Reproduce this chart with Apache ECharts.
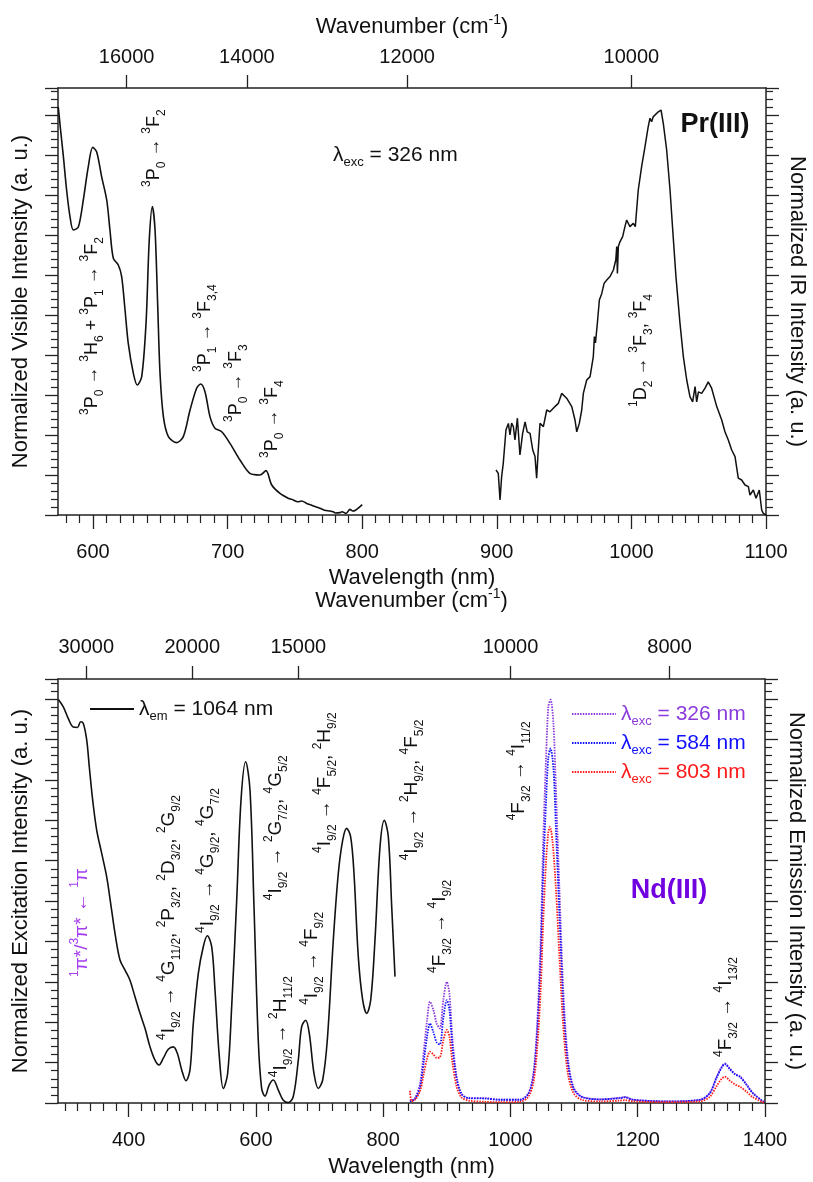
<!DOCTYPE html>
<html><head><meta charset="utf-8">
<script src="https://cdn.jsdelivr.net/npm/echarts@6/dist/echarts.min.js"></script>
<style>html,body{margin:0;padding:0;background:#fff}#c{width:813px;height:1182px}</style>
</head><body><div id="c"></div>
<script>
const FONT = '"Liberation Sans", Arial, Helvetica, sans-serif';

// ---------- Top panel: Pr(III) ----------
const prWavelengthTicks = [600, 700, 800, 900, 1000, 1100];
const prWavenumberTicks = [16000, 14000, 12000, 10000];
const prVisible = [[574.2,1.02],[576,0.96],[578,0.896],[580.4,0.8125],[582.9,0.746],[585.4,0.7125],[589.1,0.72],[592.8,0.7875],[596.5,0.871],[599.8,0.919],[602.7,0.908],[606.4,0.846],[610.2,0.7875],[612.6,0.7125],[615.1,0.642],[618.8,0.625],[621.3,0.596],[623.8,0.5125],[626.2,0.429],[630,0.354],[632.9,0.325],[636.2,0.346],[639.4,0.479],[641.8,0.6875],[644.1,0.771],[646.1,0.7125],[648.1,0.521],[649.8,0.354],[652.3,0.246],[656,0.196],[662.2,0.181],[667.1,0.196],[672.1,0.2625],[677,0.317],[680,0.3275],[683.2,0.308],[686.9,0.246],[690.6,0.217],[695.6,0.208],[701.8,0.179],[709.2,0.1375],[716.6,0.104],[724.1,0.1],[728.5,0.111],[732.8,0.075],[738.9,0.054],[745,0.042],[748.8,0.0375],[752,0.033],[755,0.035],[758.8,0.029],[762,0.025],[766,0.02],[768.6,0.017],[772,0.012],[776,0.01],[778.5,0.008],[780,0.005],[783.5,0.006],[785,0.008],[788,0.004],[790.9,0.014],[793,0.01],[795,0.012],[798.4,0.021],[800,0.026]];
const prIR = [[899.4,0.1125],[901.1,0.104],[902.4,0.0375],[903.6,0.096],[904.8,0.129],[906.8,0.2125],[908.6,0.229],[909.8,0.2],[911,0.23],[912.3,0.221],[913.5,0.1875],[915.3,0.242],[917.2,0.15],[919.2,0.204],[921,0.233],[922.6,0.208],[924.7,0.204],[926.7,0.1625],[928.4,0.146],[929.6,0.092],[930.8,0.1625],[932.1,0.229],[934.6,0.221],[937.1,0.2625],[939.5,0.258],[943.2,0.271],[945.7,0.279],[948.2,0.304],[951.9,0.292],[955.7,0.271],[958.1,0.2375],[959.4,0.208],[961.3,0.229],[963.1,0.2625],[964.3,0.304],[965.5,0.308],[966.8,0.3375],[969.3,0.346],[970.5,0.371],[971.7,0.396],[972.5,0.446],[973.3,0.43],[974.7,0.479],[976.2,0.5375],[978,0.554],[979.7,0.579],[981.7,0.5875],[984.1,0.596],[986.6,0.6125],[988.4,0.6375],[989.1,0.671],[989.6,0.604],[990.3,0.671],[991.5,0.683],[993.5,0.696],[995.2,0.721],[996.5,0.7375],[997.7,0.733],[998.9,0.721],[1001.4,0.729],[1002.9,0.721],[1005.1,0.8125],[1007.6,0.871],[1010.1,0.921],[1012.5,0.971],[1013.8,0.992],[1015,0.983],[1016.3,0.996],[1017.5,1.0],[1020,1.008],[1022,1.0125],[1023.7,0.979],[1026.2,0.9125],[1028.7,0.8125],[1030.7,0.7125],[1033.1,0.596],[1036.1,0.479],[1038.6,0.396],[1041.1,0.3375],[1043.5,0.296],[1045.5,0.283],[1047.3,0.321],[1048.5,0.283],[1049.8,0.308],[1052.2,0.304],[1054.7,0.317],[1057.1,0.333],[1059.6,0.317],[1063.4,0.271],[1067.1,0.2375],[1069.5,0.208],[1072,0.1875],[1074.5,0.1625],[1077,0.146],[1079.4,0.092],[1081.9,0.0875],[1084.4,0.075],[1086.9,0.071],[1088.1,0.05],[1090.6,0.0625],[1092.6,0.042],[1095,0.0625],[1096.8,0.0125],[1098,0.004],[1100,0.0]];

// ---------- Bottom panel: Nd(III) ----------
const ndWavelengthTicks = [400, 600, 800, 1000, 1200, 1400];
const ndWavenumberTicks = [30000, 20000, 15000, 10000, 8000];
const ndExcitation = [[289.5,0.999],[297.3,0.981],[305.2,0.952],[313,0.931],[319.4,0.93],[324.7,0.944],[328.8,0.94],[334.1,0.899],[338.2,0.832],[343.5,0.75],[349.8,0.676],[357.7,0.618],[365.5,0.56],[371.8,0.494],[378.6,0.42],[386.4,0.354],[394.3,0.329],[402.1,0.304],[410,0.263],[417.9,0.222],[425.7,0.185],[433.6,0.139],[441.4,0.106],[447.7,0.094],[454.5,0.111],[462.3,0.133],[470.2,0.139],[476.5,0.123],[483.4,0.082],[490.1,0.055],[496.4,0.082],[501.6,0.197],[509.5,0.321],[517.3,0.387],[523.6,0.414],[530.5,0.387],[535.7,0.28],[542.5,0.115],[548.8,0.036],[555.6,0.073],[561.9,0.238],[569.8,0.502],[576.6,0.75],[583.9,0.845],[590.7,0.775],[597,0.486],[603.7,0.156],[609,0.036],[614.3,0.017],[621,0.045],[627.3,0.057],[635.2,0.032],[643,0.007],[650.9,0.001],[658.7,0.016],[666.6,0.106],[671.9,0.189],[678.2,0.205],[683.8,0.173],[691.3,0.073],[698,0.036],[704.9,0.057],[712.2,0.156],[721.6,0.403],[729.5,0.569],[736.4,0.651],[742.6,0.68],[748.9,0.659],[754.1,0.569],[760.9,0.362],[767.8,0.255],[774.1,0.222],[780.4,0.255],[787.1,0.403],[795,0.634],[801.8,0.7],[808.1,0.659],[813.4,0.486],[818.6,0.313]];
const ndEm326 = [[842,0.004],[850,0.012],[858,0.049],[864,0.131],[869,0.205],[873.5,0.251],[879,0.23],[884,0.197],[889,0.185],[894.5,0.255],[900,0.3],[904,0.272],[909,0.156],[915.5,0.065],[923,0.024],[934,0.012],[960,0.012],[984,0.008],[1015,0.008],[1028,0.024],[1036,0.073],[1042,0.197],[1047.5,0.403],[1051.5,0.651],[1056,0.857],[1059.5,0.981],[1063,0.999],[1067.5,0.94],[1071.5,0.775],[1077,0.527],[1083,0.28],[1090,0.115],[1099,0.04],[1112,0.016],[1141,0.009],[1172,0.013],[1180,0.015],[1193,0.008],[1245,0.004],[1298,0.008],[1313,0.024],[1324,0.065],[1332,0.09],[1337,0.098],[1345,0.085],[1353,0.072],[1361,0.066],[1371,0.046],[1381,0.025],[1397,0.004],[1400,0.002]];
const ndEm584 = [[842,0.004],[850,0.01],[858,0.04],[864,0.105],[869,0.165],[873.5,0.197],[879,0.175],[884,0.15],[889,0.145],[894.5,0.21],[900,0.255],[904,0.232],[909,0.135],[915.5,0.058],[923,0.022],[934,0.012],[960,0.011],[984,0.008],[1015,0.008],[1028,0.022],[1036,0.065],[1042,0.172],[1047.5,0.355],[1051.5,0.57],[1056,0.75],[1059.5,0.855],[1063,0.878],[1067.5,0.83],[1071.5,0.68],[1077,0.462],[1083,0.245],[1090,0.1],[1099,0.036],[1112,0.015],[1141,0.009],[1172,0.012],[1180,0.014],[1193,0.008],[1245,0.004],[1298,0.008],[1313,0.024],[1324,0.063],[1332,0.088],[1337,0.096],[1345,0.083],[1353,0.071],[1361,0.064],[1371,0.045],[1381,0.024],[1397,0.004],[1400,0.002]];
const ndEm803 = [[842,0.03],[845,0.004],[850,0.008],[858,0.03],[864,0.075],[869,0.11],[873.5,0.127],[879,0.12],[884,0.112],[889,0.113],[894.5,0.155],[900,0.181],[904,0.165],[909,0.098],[915.5,0.04],[923,0.014],[934,0.006],[960,0.003],[984,0.002],[1015,0.003],[1028,0.015],[1036,0.05],[1042,0.135],[1047.5,0.28],[1051.5,0.45],[1056,0.6],[1059.5,0.67],[1062,0.684],[1066,0.65],[1071.5,0.53],[1077,0.36],[1083,0.19],[1090,0.075],[1099,0.025],[1112,0.008],[1141,0.004],[1172,0.006],[1180,0.007],[1193,0.004],[1245,0.002],[1298,0.004],[1313,0.015],[1324,0.042],[1332,0.06],[1337,0.065],[1345,0.055],[1353,0.046],[1361,0.04],[1371,0.028],[1381,0.014],[1397,0.002],[1400,0.001]];

// annotations: [wavelength, value, text, rotated, fontSize, color, bold]
const prNotes = [
  [599.3, 0.25, '{s|3}P{b|0} → {s|3}H{b|6} + {s|3}P{b|1} → {s|3}F{b|2}', 1],
  [645.3, 0.82, '{s|3}P{b|0} → {s|3}F{b|2}', 1],
  [683.2, 0.3575, '{s|3}P{b|1} → {s|3}F{b|3,4}', 1],
  [706.2, 0.2325, '{s|3}P{b|0} → {s|3}F{b|3}', 1],
  [733.0, 0.1425, '{s|3}P{b|0} → {s|3}F{b|4}', 1],
  [1007.1, 0.27, '{s|1}D{b|2} → {s|3}F{b|3}, {s|3}F{b|4}', 1],
  [778.3, 0.90, 'λ{b|exc} = 326 nm', 0, 21],
  [1062.1, 0.975, 'Pr(III)', 0, 27, '#111', 1]
];
const ndNotes = [
  [326.7, 0.312, '{s|1}π*/{s|3}π* ← {s|1}π', 1, 19, '#A43CF0'],
  [463.4, 0.156, '{s|4}I{b|9/2} → {s|4}G{b|11/2}, {s|2}P{b|3/2}, {s|2}D{b|3/2}, {s|2}G{b|9/2}', 1],
  [524.7, 0.421, '{s|4}I{b|9/2} → {s|4}G{b|9/2}, {s|4}G{b|7/2}', 1],
  [639.4, 0.064, '{s|4}I{b|9/2} → {s|2}H{b|11/2}', 1],
  [631.6, 0.502, '{s|4}I{b|9/2} → {s|2}G{b|7/2}, {s|4}G{b|5/2}', 1],
  [688.1, 0.243, '{s|4}I{b|9/2} → {s|4}F{b|9/2}', 1],
  [708.5, 0.619, '{s|4}I{b|9/2} → {s|4}F{b|5/2}, {s|2}H{b|9/2}', 1],
  [845.3, 0.601, '{s|4}I{b|9/2} → {s|2}H{b|9/2}, {s|4}F{b|5/2}', 1],
  [889.3, 0.322, '{s|4}F{b|3/2} → {s|4}I{b|9/2}', 1],
  [1013.4, 0.70, '{s|4}F{b|3/2} → {s|4}I{b|11/2}', 1],
  [1338.6, 0.114, '{s|4}F{b|3/2} → {s|4}I{b|13/2}', 1],
  [1249.1, 0.527, 'Nd(III)', 0, 27, '#7000E0', 1]
];

const legendText = {
  em1064: 'λ{sub|em} = 1064 nm',
  exc326: 'λ{sub|exc} = 326 nm',
  exc584: 'λ{sub|exc} = 584 nm',
  exc803: 'λ{sub|exc} = 803 nm'
};
const C326 = '#8B3BDB', C584 = '#1010FF', C803 = '#FF1A1A';

const prMinor = []; for (let w = 580; w <= 1090; w += 10) if (w % 100) prMinor.push(w);
const ndMinor = []; for (let w = 300; w <= 1400; w += 20) if (w % 200) ndMinor.push(w);

const AX = '#222';
function richSub(size) {
  return {
    s: {fontSize: size, fontFamily: FONT, verticalAlign: 'top', lineHeight: size},
    b: {fontSize: size, fontFamily: FONT, verticalAlign: 'bottom', lineHeight: size}
  };
}
function notesSeries(list, xi, yi, base) {
  return {
    type: 'custom', xAxisIndex: xi, yAxisIndex: yi, silent: true, z: 20, clip: false,
    data: list.map(a => [a[0], a[1]]),
    renderItem: function (params, api) {
      const a = list[params.dataIndex];
      const p = api.coord([api.value(0), api.value(1)]);
      const fs = a[4] || base;
      return {
        type: 'text', x: p[0], y: p[1], rotation: a[3] ? Math.PI / 2 : 0,
        style: {
          text: a[2], fontSize: fs, fontFamily: FONT, fontWeight: a[6] ? 'bold' : 'normal',
          fill: a[5] || '#111', align: a[3] ? 'left' : (a[6] ? 'center' : 'left'),
          verticalAlign: 'middle', lineHeight: 27, rich: richSub(Math.round(fs * 0.64))
        }
      };
    }
  };
}
function xMain(grid, min, max, ticks, name, gap) {
  return {
    type: 'value', gridIndex: grid, position: 'bottom', min: min, max: max,
    name: name, nameLocation: 'middle', nameGap: gap,
    nameTextStyle: {fontSize: 22, color: '#111', fontFamily: FONT},
    axisLine: {show: true, onZero: false, lineStyle: {color: AX, width: 1.5}},
    axisTick: {show: true, customValues: ticks, length: 14, lineStyle: {color: AX, width: 1.3}},
    axisLabel: {show: true, customValues: ticks, margin: 27, fontSize: 20, color: '#111', fontFamily: FONT,
      showMinLabel: true, showMaxLabel: true, hideOverlap: false, formatter: v => String(v)},
    splitLine: {show: false}
  };
}
function xMinor(grid, min, max, ticks) {
  return {
    type: 'value', gridIndex: grid, position: 'bottom', min: min, max: max,
    axisLine: {show: false, onZero: false},
    axisTick: {show: true, customValues: ticks, length: 8, lineStyle: {color: AX, width: 1.2}},
    axisLabel: {show: false}, splitLine: {show: false}
  };
}
function xTop(grid, min, max, wn, gap, lmargin) {
  const pos = wn.map(w => 1e7 / w);
  return {
    type: 'value', gridIndex: grid, position: 'top', min: min, max: max,
    name: 'Wavenumber (cm{sup|-1})', nameLocation: 'middle', nameGap: gap,
    nameTextStyle: {fontSize: 22, color: '#111', fontFamily: FONT, lineHeight: 28,
      rich: {sup: {fontSize: 14, fontFamily: FONT, verticalAlign: 'top', lineHeight: 14, color: '#111'}}},
    axisLine: {show: true, onZero: false, lineStyle: {color: AX, width: 1.5}},
    axisTick: {show: true, customValues: pos, length: 13, lineStyle: {color: AX, width: 1.3}},
    axisLabel: {show: true, customValues: pos, margin: lmargin, fontSize: 20, color: '#111', fontFamily: FONT,
      hideOverlap: false, formatter: v => String(Math.round(1e7 / v))},
    splitLine: {show: false}
  };
}
function yAx(grid, pos, max, name, gap, rot, fs) {
  const o = {
    type: 'value', gridIndex: grid, position: pos, min: 0, max: max, interval: 0.1,
    name: name, nameLocation: 'middle', nameGap: gap,
    nameTextStyle: {fontSize: fs, color: '#111', fontFamily: FONT},
    axisLine: {show: true, onZero: false, lineStyle: {color: AX, width: 1.5}},
    axisTick: {show: true, length: 13, lineStyle: {color: AX, width: 1.3}},
    minorTick: {show: true, splitNumber: 5, length: 7, lineStyle: {color: AX, width: 1.2}},
    axisLabel: {show: false}, splitLine: {show: false}
  };
  if (rot !== undefined) o.nameRotate = rot;
  return o;
}

const legendRich = {sub: {fontSize: 13, fontFamily: FONT, verticalAlign: 'bottom', lineHeight: 13}};

const option = {
  animation: false,
  backgroundColor: '#fff',
  textStyle: {fontFamily: FONT},
  grid: [
    {left: 58, top: 88, width: 708, height: 427, outerBoundsMode: 'none'},
    {left: 58, top: 679, width: 707, height: 424, outerBoundsMode: 'none'}
  ],
  xAxis: [
    xMain(0, 574, 1100, prWavelengthTicks, 'Wavelength (nm)', 52),
    xMinor(0, 574, 1100, prMinor),
    xTop(0, 574, 1100, prWavenumberTicks, 47, 21),
    xMain(1, 289, 1400, ndWavelengthTicks, 'Wavelength (nm)', 53),
    xMinor(1, 289, 1400, ndMinor),
    xTop(1, 289, 1400, ndWavenumberTicks, 64, 22)
  ],
  yAxis: [
    yAx(0, 'left', 1.0675, 'Normalized Visible Intensity (a. u.)', 26, undefined, 22),
    yAx(0, 'right', 1.0675, 'Normalized IR Intensity (a. u.)', 20, -90, 22),
    yAx(1, 'left', 1.05, 'Normalized Excitation Intensity (a. u.)', 26, undefined, 22),
    yAx(1, 'right', 1.05, 'Normalized Emission Intensity (a. u.)', 20, -90, 22)
  ],
  legend: [
    {
      data: [{name: 'em1064', textStyle: {color: '#111'}}],
      left: 84, top: 690, itemWidth: 44, itemHeight: 12, selectedMode: false,
      itemStyle: {opacity: 0},
      formatter: n => legendText[n],
      textStyle: {fontSize: 21, fontFamily: FONT, lineHeight: 28, rich: legendRich}
    },
    {
      data: [
        {name: 'exc326', textStyle: {color: C326}},
        {name: 'exc584', textStyle: {color: C584}},
        {name: 'exc803', textStyle: {color: C803}}
      ],
      orient: 'vertical', left: 566, top: 695, itemGap: 1, itemWidth: 44, itemHeight: 12, selectedMode: false,
      itemStyle: {opacity: 0},
      formatter: n => legendText[n],
      textStyle: {fontSize: 21, fontFamily: FONT, lineHeight: 28, rich: legendRich}
    }
  ],
  series: [
    {type: 'line', name: 'vis', xAxisIndex: 0, yAxisIndex: 0, data: prVisible, symbol: 'none', smooth: 0.3,
      lineStyle: {color: '#111', width: 1.6}, itemStyle: {color: '#111'}},
    {type: 'line', name: 'ir', xAxisIndex: 0, yAxisIndex: 1, data: prIR, symbol: 'none',
      lineStyle: {color: '#111', width: 1.5}, itemStyle: {color: '#111'}},
    {type: 'line', name: 'em1064', xAxisIndex: 3, yAxisIndex: 2, data: ndExcitation, symbol: 'none', smooth: 0.35,
      lineStyle: {color: '#111', width: 1.6}, itemStyle: {color: '#111'}},
    {type: 'line', name: 'exc326', xAxisIndex: 3, yAxisIndex: 3, data: ndEm326, symbol: 'none', smooth: 0.3,
      lineStyle: {color: C326, width: 1.8, type: [1.5, 1.2]}, itemStyle: {color: C326}},
    {type: 'line', name: 'exc584', xAxisIndex: 3, yAxisIndex: 3, data: ndEm584, symbol: 'none', smooth: 0.3,
      lineStyle: {color: C584, width: 1.8, type: [1.5, 1.2]}, itemStyle: {color: C584}},
    {type: 'line', name: 'exc803', xAxisIndex: 3, yAxisIndex: 3, data: ndEm803, symbol: 'none', smooth: 0.3,
      lineStyle: {color: C803, width: 1.8, type: [1.5, 1.2]}, itemStyle: {color: C803}},
    notesSeries(prNotes, 0, 0, 18),
    notesSeries(ndNotes, 3, 2, 19)
  ]
};
const chart = echarts.init(document.getElementById('c'), null, {renderer: 'canvas'});
chart.setOption(option);
</script></body></html>
